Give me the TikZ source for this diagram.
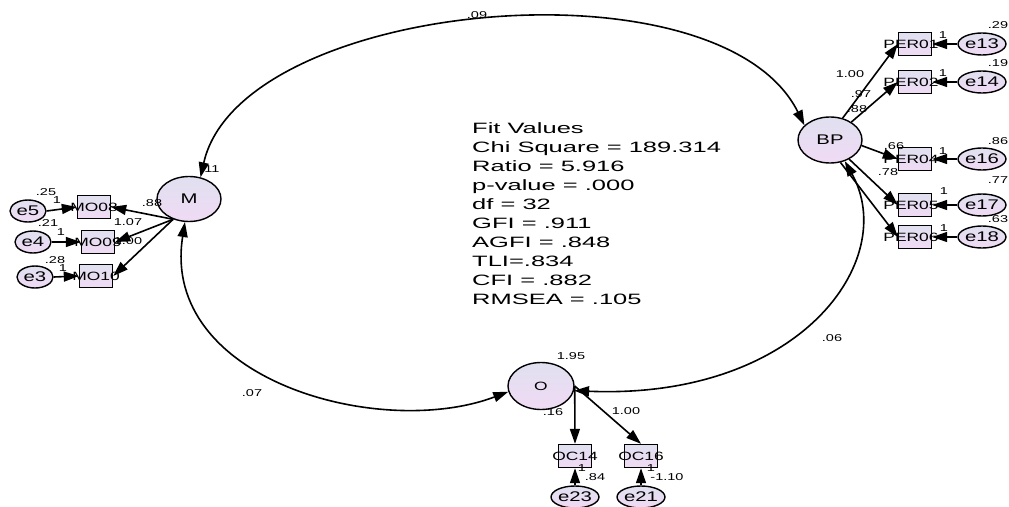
\documentclass[tikz,border=0pt]{standalone}
\usepackage{fontspec}
\setmainfont{Liberation Sans}
\usepackage{graphicx}
\usetikzlibrary{shapes.geometric,arrows.meta}
\definecolor{lavA}{RGB}{224,224,240}
\definecolor{lavB}{RGB}{240,218,244}
\newcommand{\hsx}[2][1.45]{\scalebox{#1}[1]{#2}}
\newcommand{\latfont}{\fontsize{14}{14}\selectfont}
\newcommand{\obsfont}{\fontsize{12}{12}\selectfont}
\newcommand{\errfont}{\fontsize{14}{14}\selectfont}
\begin{document}
\begin{tikzpicture}[x=1pt,y=-1pt,
  lat/.style={ellipse, draw, line width=1.4pt, top color=lavA, bottom color=lavB, inner sep=0pt, minimum width=64pt, minimum height=45pt},
  err/.style={ellipse, draw, line width=1.4pt, top color=lavA, bottom color=lavB, inner sep=0pt, minimum width=36pt, minimum height=22pt},
  obs/.style={rectangle, draw, line width=1.4pt, top color=lavA, bottom color=lavB, inner sep=0pt, minimum width=33pt, minimum height=23pt},
  numlbl/.style={inner sep=0pt, font=\fontsize{10}{10}\selectfont},
  reg/.style={line width=1.6pt, -{Triangle[length=15pt,width=10pt]}},
  cov/.style={line width=1.6pt, {Triangle[length=15pt,width=10pt]}-{Triangle[length=15pt,width=10pt]}}
]
\useasboundingbox[fill=white] (0,0) rectangle (1009,506);

% latent variables
\node[lat] (M) at (189,199) {\latfont\hsx{M}};
\node[lat, minimum height=46pt] (BP) at (830,140) {\latfont\hsx{BP}};
\node[lat, minimum width=66pt, minimum height=47pt] (O) at (541,386) {\fontsize{12}{12}\selectfont\hsx{O}};

% observed variables
\node[obs] (MO08) at (94,207) {\obsfont\makebox[0pt]{\hsx{MO08}}};
\node[obs] (MO09) at (98,242) {\obsfont\makebox[0pt]{\hsx{MO09}}};
\node[obs] (MO10) at (96,276) {\obsfont\makebox[0pt]{\hsx{MO10}}};
\node[obs] (PER01) at (915,44) {\obsfont\makebox[0pt]{\hsx{PER01}\hspace*{8pt}}};
\node[obs] (PER02) at (915,82) {\obsfont\makebox[0pt]{\hsx{PER02}\hspace*{8pt}}};
\node[obs] (PER04) at (915,159) {\obsfont\makebox[0pt]{\hsx{PER04}\hspace*{8pt}}};
\node[obs] (PER05) at (915,205) {\obsfont\makebox[0pt]{\hsx{PER05}\hspace*{8pt}}};
\node[obs] (PER06) at (915,237) {\obsfont\makebox[0pt]{\hsx{PER06}\hspace*{8pt}}};
\node[obs] (OC14) at (575,456) {\obsfont\makebox[0pt]{\hsx{OC14}}};
\node[obs] (OC16) at (641,456) {\obsfont\makebox[0pt]{\hsx{OC16}}};

% error terms
\node[err] (e5) at (28,211) {\errfont\hsx{e5}};
\node[err] (e4) at (33,242) {\errfont\hsx{e4}};
\node[err] (e3) at (35,277) {\errfont\hsx{e3}};
\node[err] (e13) at (982,44) {\errfont\hsx{e13}};
\node[err] (e14) at (982,82) {\errfont\hsx{e14}};
\node[err] (e16) at (982,159) {\errfont\hsx{e16}};
\node[err] (e17) at (982,205) {\errfont\hsx{e17}};
\node[err] (e18) at (982,237) {\errfont\hsx{e18}};
\node[err] (e23) at (575,497) {\errfont\hsx{e23}};
\node[err] (e21) at (641,497) {\errfont\hsx{e21}};

% fit values
\node[anchor=base west, inner sep=0pt] (fit) at (472,133) {\fontsize{15}{19}\selectfont\hsx[1.7]{\begin{tabular}[t]{@{}l@{}}Fit Values\\ Chi Square = 189.314\\ Ratio = 5.916\\ p-value = .000\\ df = 32\\ GFI = .911\\ AGFI = .848\\ TLI=.834\\ CFI = .882\\ RMSEA = .105\end{tabular}}};

% numeric labels
\node[numlbl] (l09) at (477,15) {\hsx{.09}};
\node[numlbl] (l11) at (210,169) {\hsx{.11}};
\node[numlbl] (l25) at (46,192) {\hsx{.25}};
\node[numlbl] (l1a) at (57,200) {\hsx{1}};
\node[numlbl] (l21) at (48,223) {\hsx{.21}};
\node[numlbl] (l1b) at (61,232) {\hsx{1}};
\node[numlbl] (l28) at (55,260) {\hsx{.28}};
\node[numlbl] (l1c) at (63,268) {\hsx{1}};
\node[numlbl] (l88a) at (152,203) {\hsx{.88}};
\node[numlbl] (l107) at (128,222) {\hsx{1.07}};
\node[numlbl] (l100a) at (128,241) {\hsx{1.00}};
\node[numlbl] (l29) at (998,25) {\hsx{.29}};
\node[numlbl] (l19) at (998,63) {\hsx{.19}};
\node[numlbl] (l86) at (998,141) {\hsx{.86}};
\node[numlbl] (l77) at (998,180) {\hsx{.77}};
\node[numlbl] (l63) at (998,219) {\hsx{.63}};
\node[numlbl] (l1d) at (943,35) {\hsx{1}};
\node[numlbl] (l1e) at (943,73) {\hsx{1}};
\node[numlbl] (l1f) at (943,151) {\hsx{1}};
\node[numlbl] (l1g) at (944,191) {\hsx{1}};
\node[numlbl] (l1h) at (944,228) {\hsx{1}};
\node[numlbl] (l100b) at (850,74) {\hsx{1.00}};
\node[numlbl] (l97) at (861,94) {\hsx{.97}};
\node[numlbl] (l88b) at (857,109) {\hsx{.88}};
\node[numlbl] (l66) at (894,146) {\hsx{.66}};
\node[numlbl] (l78) at (888,172) {\hsx{.78}};
\node[numlbl] (l195) at (571,356) {\hsx{1.95}};
\node[numlbl] (l16) at (553,412) {\hsx{.16}};
\node[numlbl] (l100c) at (626,411) {\hsx{1.00}};
\node[numlbl] (l1i) at (582,468) {\hsx{1}};
\node[numlbl] (l84) at (595,477) {\hsx{.84}};
\node[numlbl] (l1j) at (651,468) {\hsx{1}};
\node[numlbl] (l110) at (667,477) {\hsx{-1.10}};
\node[numlbl] (l07) at (252,393) {\hsx{.07}};
\node[numlbl] (l06) at (832,338) {\hsx{.06}};

% regression paths
\draw[reg] (M.-128) -- (MO08.east);
\draw[reg] (M.-128) -- (MO09.east);
\draw[reg] (M.-128) -- (MO10.east);
\draw[reg] (BP.60) -- (PER01.west);
\draw[reg] (BP.40) -- (PER02.west);
\draw[reg] (BP.-10) -- (PER04.west);
\draw[reg] (BP.-45) -- (PER05.west);
\draw[reg] (BP.-65) -- (PER06.west);
\draw[reg] (O.east) -- (OC14.north);
\draw[reg] (O.east) -- (OC16.north);

% error paths
\draw[reg] (e5.east) -- (MO08.west);
\draw[reg] (e4.east) -- (MO09.west);
\draw[reg] (e3.east) -- (MO10.west);
\draw[reg] (e13.west) -- (PER01.east);
\draw[reg] (e14.west) -- (PER02.east);
\draw[reg] (e16.west) -- (PER04.east);
\draw[reg] (e17.west) -- (PER05.east);
\draw[reg] (e18.west) -- (PER06.east);
\draw[reg] (e23.north) -- (OC14.south);
\draw[reg] (e21.north) -- (OC16.south);

% covariances
\draw[cov] (M.62) .. controls (240,0) and (720,-45) .. (BP.150);
\draw[cov] (M.-100) .. controls (160,380) and (380,440) .. (O.190);
\draw[cov] (BP.-55) .. controls (900,260) and (800,400) .. (O.-8);
\end{tikzpicture}
\end{document}
